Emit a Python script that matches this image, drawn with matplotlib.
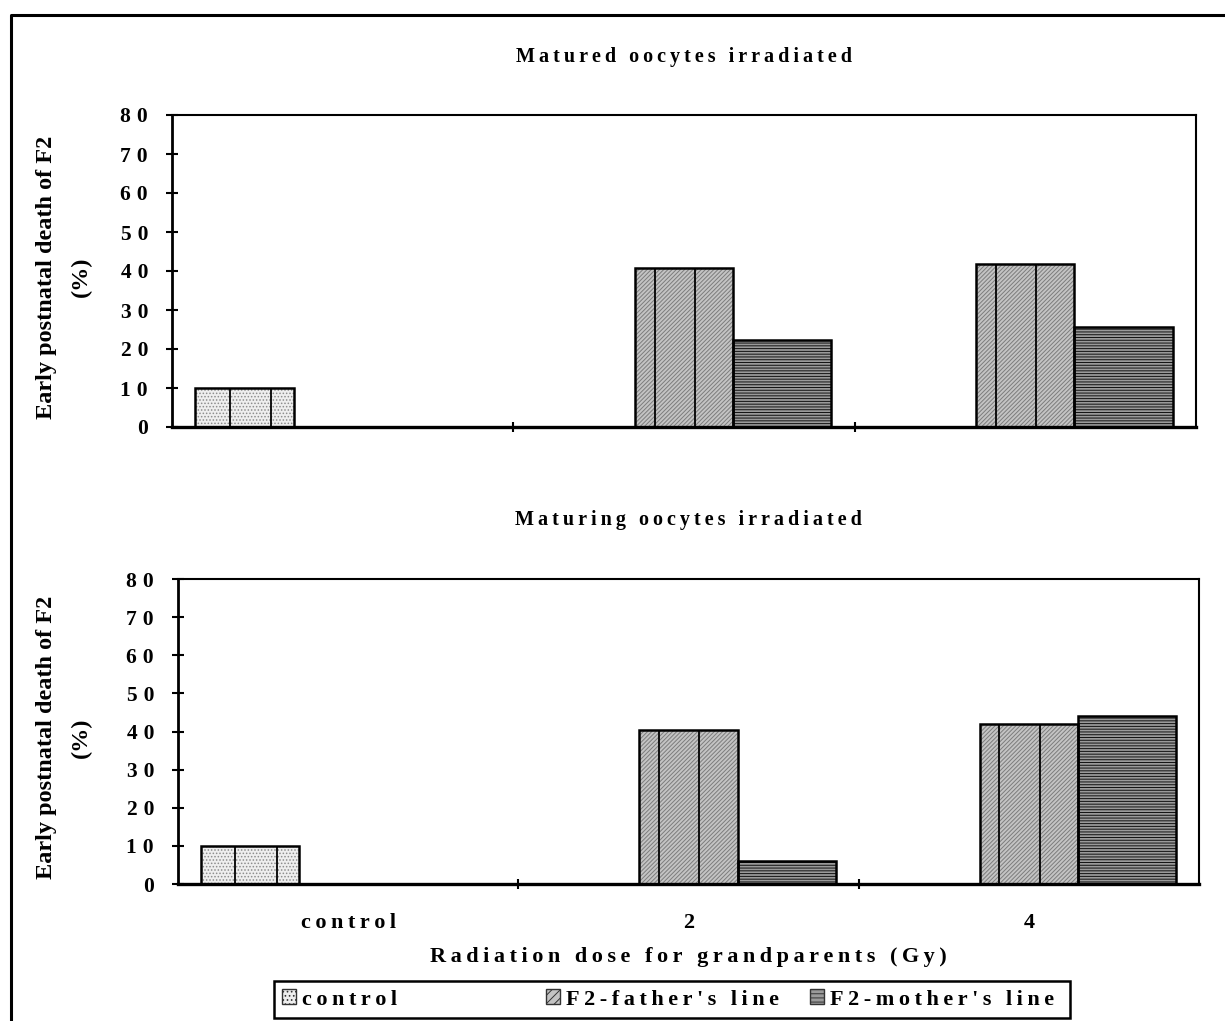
import numpy as np
import matplotlib.pyplot as plt
from matplotlib.patches import Rectangle, Patch
from matplotlib.lines import Line2D

plt.rcParams['font.family'] = ['Liberation Serif', 'DejaVu Serif']
plt.rcParams['font.weight'] = 'bold'
plt.rcParams['hatch.linewidth'] = 0.7

W, H = 1225, 1021

categories = ["control", "2", "4"]
series = ["control", "F2-father's line", "F2-mother's line"]
nan = np.nan

# Matured oocytes irradiated (top)
matured_control = [10, nan, nan]
matured_father = [nan, 40.8, 41.7]
matured_mother = [nan, 22.2, 25.6]

# Maturing oocytes irradiated (bottom)
maturing_control = [10, nan, nan]
maturing_father = [nan, 40.4, 42.0]
maturing_mother = [nan, 6.0, 44.0]

yticks = np.arange(0, 81, 10)

styles = [
    dict(face='#eeeeee', hatch='.....', hc='#8c8c8c', splits=(0.35, 0.77)),
    dict(face='#c4c4c4', hatch='////////', hc='#7c7c7c', splits=(0.2, 0.61)),
    dict(face='#9a9a9a', hatch='------', hc='#111111', splits=()),
]
bar_w = 0.288


def spaced(s, sep='\u2009'):
    return sep.join(s)


def draw_panel(ax, data, title, ty):
    x = np.arange(len(categories))
    for i, (vals, st) in enumerate(zip(data, styles)):
        pos = x + (i - 1) * bar_w
        ax.bar(pos, vals, bar_w, color=st['face'], hatch=st['hatch'],
               edgecolor=st['hc'], linewidth=0, zorder=2)
        bars = ax.bar(pos, vals, bar_w, facecolor='none', edgecolor='black',
                      linewidth=1.8, zorder=3)
        for b in bars:
            h = b.get_height()
            if np.isnan(h):
                continue
            for f in st['splits']:
                ax.vlines(b.get_x() + f * b.get_width(), 0, h, color='black',
                          linewidth=1.3, zorder=3)
    ax.set_xlim(-0.5, 2.5)
    ax.set_ylim(0, 80)
    ax.set_yticks(yticks)
    ax.set_yticklabels([spaced(str(v), '\u2009\u200a') for v in yticks],
                       fontsize=15.5)
    ax.set_xticks(x)
    ax.set_xticks([0.5, 1.5], minor=True)
    ax.tick_params(axis='y', direction='inout', length=8.5, width=1.5, pad=13)
    ax.tick_params(axis='x', which='major', length=0, pad=21)
    ax.tick_params(axis='x', which='minor', direction='inout', length=7.5,
                   width=1.5)
    for sp in ax.spines.values():
        sp.set_linewidth(1.5)
    ax.spines['left'].set_linewidth(2)
    ax.spines['bottom'].set_linewidth(2.4)
    cy = ax.get_position().y0 + ax.get_position().height / 2
    fig.text(64 / W, cy - 0.006, "Early postnatal death of F2\n(%)", rotation=90,
             ha='center', va='center', fontsize=17.5, linespacing=1.9,
             multialignment='center')
    fig.text((ax.get_position().x0 + ax.get_position().x1) / 2, 1 - ty / H,
             spaced(title), ha='center', va='center', fontsize=14.5)


fig = plt.figure(figsize=(W / 100, H / 100), dpi=100)
ax1 = fig.add_axes([172 / W, 1 - 427 / H, (1196 - 172) / W, (427 - 115) / H])
ax2 = fig.add_axes([178 / W, 1 - 884 / H, (1199 - 178) / W, (884 - 579) / H])

draw_panel(ax1, [matured_control, matured_father, matured_mother],
           "Matured oocytes irradiated", 57)
ax1.set_xticklabels([])
draw_panel(ax2, [maturing_control, maturing_father, maturing_mother],
           "Maturing oocytes irradiated", 520)
ax2.set_xticklabels([spaced(c) for c in categories], fontsize=16)

fig.text(688 / W, 1 - 957 / H, spaced("Radiation dose for grandparents (Gy)"),
         ha='center', va='center', fontsize=16)

# legend
fig.add_artist(Rectangle((274 / W, 1 - 1018 / H), (1070 - 274) / W, 37 / H,
                         transform=fig.transFigure, fill=False,
                         edgecolor='black', linewidth=1.8))
leg_x = [282, 546, 810]
for name, st, lx in zip(series, styles, leg_x):
    h = Patch(facecolor=st['face'], hatch=st['hatch'][:4],
              edgecolor='#333333', linewidth=1)
    fig.legend([h], [spaced(name)], loc='center left',
               bbox_to_anchor=(lx / W, 1 - 999.5 / H), frameon=False,
               fontsize=16, handlelength=0.65, handleheight=0.65,
               handletextpad=0.25, borderpad=0, borderaxespad=0)

# outer frame
fig.add_artist(Line2D([11 / W, 11 / W, 1.0], [0, 1 - 15 / H, 1 - 15 / H],
                      transform=fig.transFigure, color='black', linewidth=2.2))

fig.savefig("out.png", dpi=100)
